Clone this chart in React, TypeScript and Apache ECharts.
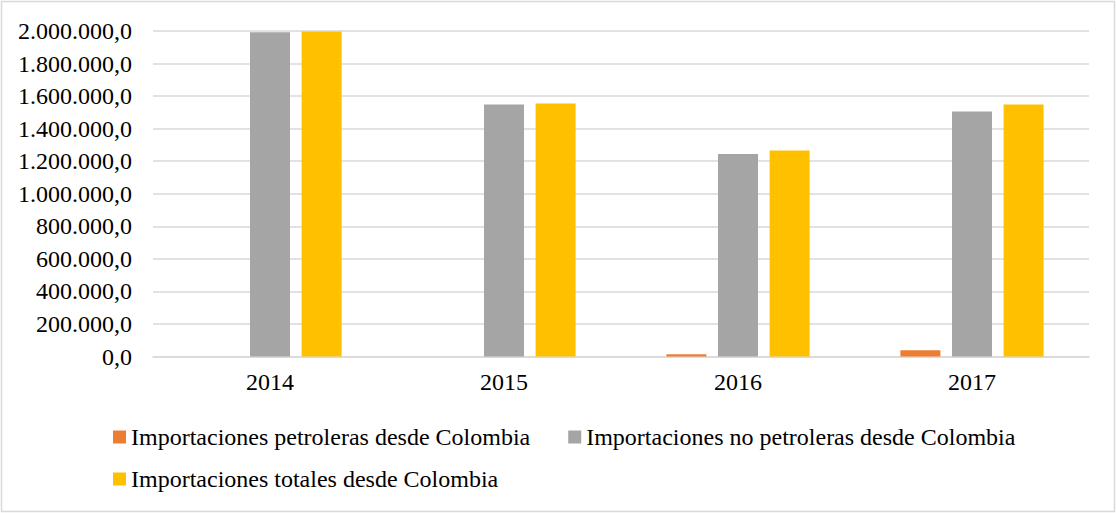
import React, { useEffect, useRef } from "react";
import * as echarts from "echarts";

const categories = ["2014", "2015", "2016", "2017"];
const petroleras = [0, 0, 14000, 39000];
const noPetroleras = [1993000, 1549000, 1245000, 1505000];
const totales = [1997000, 1555000, 1266000, 1548000];
const seriesNames = [
  "Importaciones petroleras desde Colombia",
  "Importaciones no petroleras desde Colombia",
  "Importaciones totales desde Colombia",
];

const FONT = "Liberation Serif";
const FS = 24;

function fmt(v: number): string {
  const s = Math.round(v).toString().replace(/\B(?=(\d{3})+(?!\d))/g, ".");
  return s + ",0";
}

export default function App() {
  const ref = useRef<HTMLDivElement>(null);
  useEffect(() => {
    document.body.style.margin = "0";
    const chart = echarts.init(ref.current!, null, { renderer: "svg" });
    const legendBase = {
      left: 113,
      padding: 0,
      itemWidth: 13,
      itemHeight: 13,
      itemGap: 38,
      icon: "rect",
      textStyle: { fontFamily: FONT, fontSize: FS, color: "#000" },
    };
    chart.setOption({
      animation: false,
      backgroundColor: "#ffffff",
      textStyle: { fontFamily: FONT },
      graphic: [
        {
          type: "rect",
          shape: { x: 1.5, y: 1.5, width: 1113, height: 510 },
          style: { fill: "none", stroke: "#d9d9d9", lineWidth: 1.5 },
          silent: true,
        },
      ],
      grid: { left: 153, right: 27, top: 31, bottom: 156.5, containLabel: false },
      legend: [
        { ...legendBase, data: [seriesNames[0], seriesNames[1]], top: 425 },
        { ...legendBase, data: [seriesNames[2]], top: 467 },
      ],
      xAxis: {
        type: "category",
        data: categories,
        axisLine: { lineStyle: { color: "#d9d9d9", width: 1.5 } },
        axisTick: { show: false },
        axisLabel: { fontFamily: FONT, fontSize: FS, color: "#000", margin: 13 },
      },
      yAxis: {
        type: "value",
        min: 0,
        max: 2000000,
        interval: 200000,
        axisLine: { show: false },
        axisTick: { show: false },
        splitLine: { lineStyle: { color: "#d9d9d9", width: 1.5 } },
        axisLabel: {
          fontFamily: FONT,
          fontSize: FS,
          color: "#000",
          margin: 21,
          formatter: (v: number) => fmt(v),
        },
      },
      series: [
        {
          name: seriesNames[0],
          type: "bar",
          data: petroleras,
          itemStyle: { color: "#ED7D31" },
          barWidth: 40,
          barGap: "29%",
        },
        {
          name: seriesNames[1],
          type: "bar",
          data: noPetroleras,
          itemStyle: { color: "#A5A5A5" },
          barWidth: 40,
          barGap: "29%",
        },
        {
          name: seriesNames[2],
          type: "bar",
          data: totales,
          itemStyle: { color: "#FFC000" },
          barWidth: 40,
          barGap: "29%",
        },
      ],
    });
    return () => chart.dispose();
  }, []);
  return <div ref={ref} style={{ width: 1116, height: 513 }} />;
}
